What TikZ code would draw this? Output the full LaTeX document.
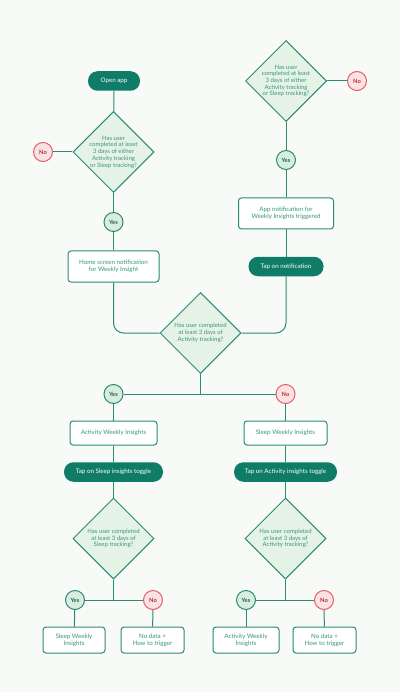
\documentclass[tikz,border=0pt]{standalone}
\usepackage{fontspec}
\setmainfont{Lato}
\usetikzlibrary{shapes.geometric}
\definecolor{bg}{HTML}{F8FAF8}
\definecolor{teal}{HTML}{2B8A74}
\definecolor{dark}{HTML}{0E7C67}
\definecolor{txt}{HTML}{3A9580}
\definecolor{dfill}{HTML}{E5F3E6}
\definecolor{yfill}{HTML}{D8EDDD}
\definecolor{nfill}{HTML}{FCE1E2}
\definecolor{nline}{HTML}{E0606A}
\definecolor{ntxt}{HTML}{B0303A}
\tikzset{
  ln/.style={draw=teal, line width=1pt},
  pill/.style={fill=dark, draw=none, rounded corners=9.5pt, text=white, font=\fontsize{6.2}{7}\selectfont, minimum height=19.5pt, inner sep=0pt},
  box/.style={draw=teal, line width=1pt, fill=white, rounded corners=3pt, text=txt, font=\fontsize{6.2}{7.2}\selectfont, align=center, inner sep=0pt},
  dec/.style={diamond, draw=teal, line width=1pt, fill=dfill, aspect=1, inner sep=0pt, minimum width=81pt, minimum height=81pt, text=txt, align=center, font=\fontsize{6}{6.7}\selectfont},
  yesc/.style={circle, draw=teal, line width=1pt, fill=yfill, minimum size=19pt, inner sep=0pt, text=teal!70!black, font=\fontsize{5.8}{6}\selectfont\bfseries},
  noc/.style={circle, draw=nline, line width=1pt, fill=nfill, minimum size=19pt, inner sep=0pt, text=ntxt, font=\fontsize{5.8}{6}\selectfont\bfseries},
}
\begin{document}
\begin{tikzpicture}[x=1pt,y=-1pt]
\fill[bg] (0,0) rectangle (400,692);
\useasboundingbox (0,0) rectangle (400,692);
% left top branch
\node[pill, minimum width=52pt] (open) at (114,81) {Open app};
\node[dec] (d1) at (113.5,152) {Has user\\completed at least\\3 days of either\\Activity tracking\\or Sleep tracking?};
\node[noc] (n1) at (43,152) {No};
\node[yesc] (y1) at (113.5,222) {Yes};
\node[box, minimum width=91pt, minimum height=31pt] (home) at (113.5,266.5) {Home screen notification\\for Weekly Insight};
% right top branch
\node[dec] (d2) at (286,81) {Has user\\completed at least\\3 days of either\\Activity tracking\\or Sleep tracking?};
\node[noc] (n2) at (357,81) {No};
\node[yesc] (y2) at (286,160) {Yes};
\node[box, minimum width=95pt, minimum height=31pt] (appn) at (286,213.5) {App notification for\\Weekly Insights triggered};
\node[pill, minimum width=75pt] (tapn) at (286,266.5) {Tap on notification};
% middle
\node[dec] (d3) at (200.5,333) {Has user completed\\at least 3 days of\\Activity tracking?};
\coordinate (j3) at (200.5,394);
\node[yesc] (y3) at (113.5,394) {Yes};
\node[noc] (n3) at (285.5,394) {No};
% lower left
\node[box, minimum width=87pt, minimum height=24pt] (awi) at (113.5,433) {Activity Weekly Insights};
\node[pill, minimum width=99pt] (tsl) at (113.5,472) {Tap on Sleep insights toggle};
\node[dec] (d4) at (113.5,538.5) {Has user completed\\at least 3 days of\\Sleep tracking?};
\coordinate (j4) at (113.5,600);
\node[yesc] (y4) at (75,600) {Yes};
\node[noc] (n4) at (153,600) {No};
\node[box, minimum width=62pt, minimum height=26pt] (swi2) at (74,640) {Sleep Weekly\\Insights};
\node[box, minimum width=63pt, minimum height=26pt] (nd1) at (152.5,640) {No data +\\How to trigger};
% lower right
\node[box, minimum width=83pt, minimum height=24pt] (swi) at (285.5,433) {Sleep Weekly Insights};
\node[pill, minimum width=103pt] (tac) at (285.5,472) {Tap on Activity insights toggle};
\node[dec] (d5) at (285.5,538.5) {Has user completed\\at least 3 days of\\Activity tracking?};
\coordinate (j5) at (285.5,600);
\node[yesc] (y5) at (246,600) {Yes};
\node[noc] (n5) at (324,600) {No};
\node[box, minimum width=66pt, minimum height=26pt] (awi2) at (246,640) {Activity Weekly\\Insights};
\node[box, minimum width=63pt, minimum height=26pt] (nd2) at (324.5,640) {No data +\\How to trigger};
% connectors
\draw[ln] (open) -- (d1);
\draw[ln] (d1) -- (n1);
\draw[ln] (d1) -- (y1);
\draw[ln] (y1) -- (home);
\draw[ln, rounded corners=10pt] (home.south) |- (d3.west);
\draw[ln] (d2) -- (n2);
\draw[ln] (d2) -- (y2);
\draw[ln] (y2) -- (appn);
\draw[ln] (appn) -- (tapn);
\draw[ln, rounded corners=10pt] (tapn.south) |- (d3.east);
\draw[ln] (d3.south) -- (j3);
\draw[ln] (y3) -- (n3);
\draw[ln] (y3) -- (awi);
\draw[ln] (n3) -- (swi);
\draw[ln] (awi) -- (tsl);
\draw[ln] (tsl) -- (d4);
\draw[ln] (d4.south) -- (j4);
\draw[ln] (y4) -- (n4);
\draw[ln] (y4) -- (swi2);
\draw[ln] (n4) -- (nd1);
\draw[ln] (swi) -- (tac);
\draw[ln] (tac) -- (d5);
\draw[ln] (d5.south) -- (j5);
\draw[ln] (y5) -- (n5);
\draw[ln] (y5) -- (awi2);
\draw[ln] (n5) -- (nd2);
\end{tikzpicture}
\end{document}
